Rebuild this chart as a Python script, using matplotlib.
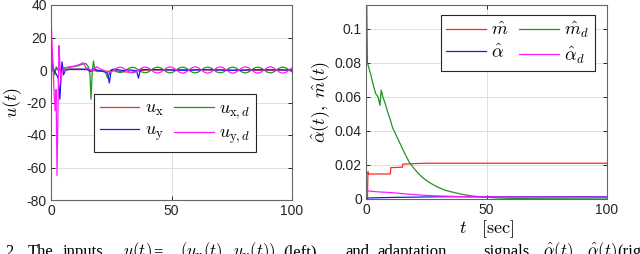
import numpy as np
import matplotlib
matplotlib.use('Agg')
import matplotlib.pyplot as plt

plt.rcParams['font.family'] = ['Liberation Sans', 'DejaVu Sans']
plt.rcParams['mathtext.fontset'] = 'cm'
plt.rcParams['axes.unicode_minus'] = False

# ---- left panel: inputs u(t) ----
# steady oscillating part (shared time grid)
t_osc = [26.0, 27.3, 28.6, 29.9, 31.2, 32.5, 33.8, 35.1, 36.4, 37.7, 39.0, 40.3, 41.6, 42.9,
         44.2, 45.5, 46.8, 48.1, 49.4, 50.7, 52.0, 53.3, 54.6, 55.9, 57.2, 58.5, 59.8, 61.1,
         62.4, 63.7, 65.0, 66.3, 67.6, 68.9, 70.2, 71.5, 72.8, 74.1, 75.4, 76.7, 78.0, 79.3,
         80.6, 81.9, 83.2, 84.5, 85.8, 87.1, 88.4, 89.7, 91.0, 92.3, 93.6, 94.9, 96.2, 97.5,
         98.8, 100.1]
uyd_osc = [-0.3, 1.2, 1.8, 1.3, 0.0, -1.3, -1.8, -1.3, 0.0, 1.3, 1.9, 1.4, 0.0, -1.4,
           -1.9, -1.4, 0.0, 1.4, 2.0, 1.4, 0.0, -1.4, -2.0, -1.4, 0.0, 1.4, 2.0, 1.4,
           0.0, -1.4, -2.0, -1.4, 0.0, 1.4, 2.0, 1.4, 0.0, -1.4, -2.0, -1.4, 0.0, 1.4,
           2.0, 1.4, 0.0, -1.4, -2.0, -1.4, 0.0, 1.4, 2.0, 1.4, 0.0, -1.4, -2.0, -1.4,
           0.0, 1.4]
uxd_osc = [0.3, -1.1, -1.6, -1.2, 0.0, 1.2, 1.7, 1.2, 0.0, -1.2, -1.7, -1.3, 0.0, 1.3,
           1.8, 1.3, 0.0, -1.3, -1.8, -1.3, 0.0, 1.3, 1.8, 1.3, 0.0, -1.3, -1.8, -1.3,
           0.0, 1.3, 1.8, 1.3, 0.0, -1.3, -1.8, -1.3, 0.0, 1.3, 1.8, 1.3, 0.0, -1.3,
           -1.8, -1.3, 0.0, 1.3, 1.8, 1.3, 0.0, -1.3, -1.8, -1.3, 0.0, 1.3, 1.8, 1.3,
           0.0, -1.3]

# transients
t_uyd = [0, 0.4, 0.9, 1.3, 1.7, 2.1, 2.5, 2.9, 3.3, 3.7, 4.1, 4.6, 5.2, 6, 8, 10, 12,
         13.4, 14.5, 16, 17, 18, 19, 20, 21.5, 23, 24.5]
uyd_tr = [33, 18, 0, -15, -25, -12, -65, -25, 15, 4, -8, -1, 1.5, 1.5, 2, 2.5, 3.5,
          4.5, 1.5, 0.5, -0.5, 1, 2, 1, 0, -1, -1.5]

t_uxd = [0, 0.4, 0.9, 1.5, 2.2, 3, 4, 5, 7, 9, 11, 13, 14.5, 15.5, 16.2, 16.6, 17.1,
         17.6, 18.3, 19.5, 21, 22.5, 23.5, 24.3, 25]
uxd_tr = [18, 8, 2, -3, 2, 0, 1, 1.2, 1.5, 2, 2.5, 3.5, 4, 2, -3, -18, -2,
          5.5, 0, -1, 0, -1, -5, -2, 0]

t_uy = [0, 0.5, 1, 2, 3, 3.7, 4.2, 4.6, 5.2, 6, 8, 15, 16.5, 17.5, 19, 22, 23.5, 24.2,
        25, 26, 30, 33, 35.5, 36.3, 37, 38, 45, 55, 65, 75, 85, 100]
uy = [10, 3, 0, -2, -5, -18, -2, 5, -3, 0, 0.5, 0.5, -1, 1, 0, -1, -2, -8,
      0, 0.5, -0.3, 0, -0.5, -5, 0, 0.3, 0.2, -0.2, 0.2, -0.2, 0.2, 0]

t_ux = [0, 0.5, 1, 2, 3, 5, 10, 15, 18, 22, 26, 30, 33, 36, 40, 60, 80, 100]
ux = [5, 1, -1, 1, 0, 0.5, 0.5, 0.3, -0.5, -1, -0.5, -1, -1.5, -0.5, 0, 0.2, -0.2, 0]

# ---- right panel: adaptation signals ----
t_md = [0, 0.2, 0.6, 1, 2, 3, 4, 5, 5.8, 6.3, 7, 8, 9, 10, 11, 12, 13, 14, 15, 16, 18,
        20, 22, 24, 26, 28, 30, 33, 36, 40, 44, 48, 55, 65, 80, 100]
md = [0, 0.125, 0.08, 0.078, 0.073, 0.067, 0.062, 0.060, 0.055, 0.064, 0.060, 0.056,
      0.051, 0.047, 0.042, 0.039, 0.036, 0.033, 0.030, 0.027, 0.0215, 0.0178, 0.0146,
      0.0120, 0.0100, 0.0083, 0.0068, 0.0051, 0.0040, 0.0027, 0.0018, 0.0012, 0.0006,
      0.0002, 0.0001, 0.0]

t_m = [0, 0.6, 0.8, 1.1, 10.1, 10.3, 15.1, 15.3, 20, 25, 100]
m_hat = [0, 0, 0.016, 0.0147, 0.0147, 0.0184, 0.0187, 0.0205, 0.0208, 0.021, 0.021]

t_a = [0, 1, 10, 20, 30, 40, 100]
a_hat = [0.0004, 0.0006, 0.0009, 0.0011, 0.0013, 0.0013, 0.0013]

t_ad = [0, 0.5, 1, 5, 10, 15, 20, 25, 30, 40, 50, 70, 100]
ad = [0, 0.0048, 0.0047, 0.0042, 0.0038, 0.0032, 0.0026, 0.0021, 0.0018, 0.0014,
      0.0012, 0.0011, 0.0010]

c_r = (1.0, 0.15, 0.15)
c_g = (0.13, 0.58, 0.13)
c_b = (0.1, 0.1, 0.95)
c_m = (1.0, 0.1, 1.0)
lw = 0.9

fig = plt.figure(figsize=(6.4, 2.54), dpi=100)
ax1 = fig.add_axes([51/640, 1-200/254, 241/640, 195/254])
ax2 = fig.add_axes([366/640, 1-199/254, 241/640, 194/254])

hr, = ax1.plot(t_ux, ux, color=c_r, lw=lw)
hg, = ax1.plot(t_uxd + t_osc, uxd_tr + uxd_osc, color=c_g, lw=lw)
hb, = ax1.plot(t_uy, uy, color=c_b, lw=lw)
hm, = ax1.plot(t_uyd + t_osc, uyd_tr + uyd_osc, color=c_m, lw=lw)
ax1.set_xlim(0, 100)
ax1.set_ylim(-80, 40)
ax1.set_xticks([0, 50, 100])
ax1.set_yticks(np.arange(-80, 41, 20))
ax1.set_ylabel(r'$u(t)$', fontsize=13, labelpad=2)
leg1 = ax1.legend([hr, hb, hg, hm],
                  [r'$u_{\rm x}$', r'$u_{\rm y}$', r'$u_{{\rm x},d}$', r'$u_{{\rm y},d}$'],
                  ncol=2, loc='center', bbox_to_anchor=(0.515, 0.395), fontsize=13,
                  handlelength=2.2, columnspacing=0.6, handletextpad=0.3,
                  labelspacing=0.25, borderpad=0.3, fancybox=False, framealpha=1)

h2r, = ax2.plot(t_m, m_hat, color=c_r, lw=lw)
h2g, = ax2.plot(t_md, md, color=c_g, lw=lw)
h2b, = ax2.plot(t_a, a_hat, color=c_b, lw=lw)
h2m, = ax2.plot(t_ad, ad, color=c_m, lw=lw)
ax2.set_xlim(0, 100)
ax2.set_ylim(0, 0.114)
ax2.set_xticks([0, 50, 100])
ax2.set_yticks([0, 0.02, 0.04, 0.06, 0.08, 0.1])
ax2.set_yticklabels(['0', '0.02', '0.04', '0.06', '0.08', '0.1'])
ax2.set_ylabel(r'$\hat{\alpha}(t),\ \hat{m}(t)$', fontsize=13, labelpad=2)
ax2.set_xlabel(r'$t\ \ \ [\mathrm{sec}]$', fontsize=13, labelpad=1)
leg2 = ax2.legend([h2r, h2b, h2g, h2m],
                  [r'$\hat{m}$', r'$\hat{\alpha}$', r'$\hat{m}_d$', r'$\hat{\alpha}_d$'],
                  ncol=2, loc='center', bbox_to_anchor=(0.63, 0.805), fontsize=13,
                  handlelength=2.2, columnspacing=0.6, handletextpad=0.3,
                  labelspacing=0.25, borderpad=0.3, fancybox=False, framealpha=1)

for ax, leg in ((ax1, leg1), (ax2, leg2)):
    ax.grid(True, color='0.88', lw=0.7)
    ax.set_axisbelow(True)
    ax.tick_params(direction='in', top=True, right=True, length=3, width=0.7,
                   labelsize=10, colors='0.15', pad=3)
    for s in ax.spines.values():
        s.set_color('0.4')
        s.set_linewidth(0.8)
    leg.get_frame().set_edgecolor('0.15')
    leg.get_frame().set_linewidth(0.8)

# caption line, cut off at the bottom edge as in the source page
cap_words = [(5, '2.'), (28, 'The'), (63, 'inputs'), (123, r'$u(t)$'), (153, '='),
             (180, r'$(u_{\rm x}(t),$'), (233, r'$u_{\rm y}(t))$'), (283, '(left)'),
             (345, 'and'), (377, 'adaptation'), (483, 'signals'),
             (543, r'$\hat{\alpha}(t),$'), (587, r'$\hat{\alpha}(t)$'), (617, '(right)')]
for x, w in cap_words:
    fig.text(x/640, -2.5/254, w, fontsize=12, family=['Liberation Serif', 'DejaVu Serif'],
             va='baseline', ha='left')

fig.savefig('out.png', dpi=100)
